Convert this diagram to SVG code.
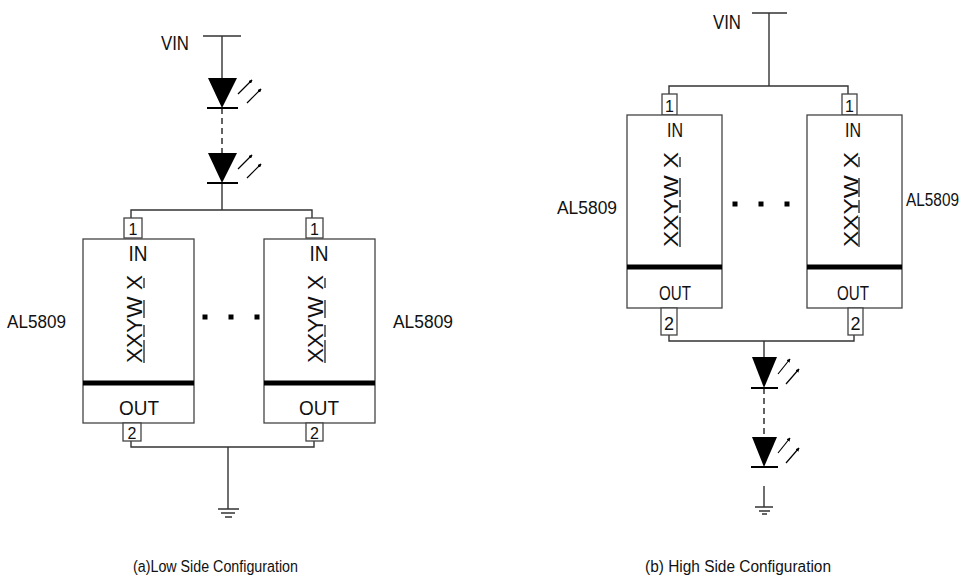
<svg xmlns="http://www.w3.org/2000/svg" width="967" height="579" viewBox="0 0 967 579">
<style>
.w{stroke:#333;stroke-width:1.4;fill:none}
.box{stroke:#444;stroke-width:1.3;fill:#fff}
.bar{stroke:#000;stroke-width:5}
.t{font-family:"Liberation Sans",Arial,sans-serif;fill:#111}
.ul{stroke:#222;stroke-width:1.3}
.led{fill:#000}
.kb{stroke:#000;stroke-width:2}
.ray{stroke:#000;stroke-width:1.2;marker-end:url(#ah)}
.dash{stroke:#222;stroke-width:1.4;stroke-dasharray:6 4}
.dot{fill:#000}
</style>
<defs>
<marker id="ah" viewBox="0 0 6 6" refX="5" refY="3" markerWidth="4" markerHeight="4" orient="auto" markerUnits="userSpaceOnUse">
<path d="M0,0 L6,3 L0,6 z" fill="#000"/>
</marker>
</defs>
<rect width="967" height="579" fill="#fff"/>

<g id="connectors">
<!-- (a) -->
<path class="w" d="M203,36 H241 M222,36 V78 M222,183 V210 M131,218 V210 H312 V218"/>
<line class="dash" x1="222" y1="108" x2="222" y2="153"/>
<path class="w" d="M131,441 V447 H314 V441 M228,447 V509"/>
<path class="w" d="M218,509 H239 M221,513 H235 M225,517 H232"/>
<!-- (b) -->
<path class="w" d="M752,13 H787 M769,13 V86 M669,94 V86 H848 V94"/>
<path class="w" d="M669,335 V341 H854 V335 M764,341 V357"/>
<line class="dash" x1="764" y1="388" x2="764" y2="437"/>
<path class="w" d="M764,486 V507 M755,507 H773 M759,511 H770 M762,514 H767"/>
</g>

<g id="vin-a"><text class="t" x="161" y="50" font-size="20" textLength="28" lengthAdjust="spacingAndGlyphs">VIN</text></g>
<g id="vin-b"><text class="t" x="713" y="29" font-size="20" textLength="28" lengthAdjust="spacingAndGlyphs">VIN</text></g>

<g id="led-a1">
<path class="led" d="M208,78 H237 L222,108 z"/><line class="kb" x1="207" y1="108" x2="238" y2="108"/>
<line class="ray" x1="238" y1="94" x2="252" y2="80"/><line class="ray" x1="247" y1="103" x2="261" y2="89"/>
</g>
<g id="led-a2">
<path class="led" d="M208,153 H237 L222,183 z"/><line class="kb" x1="207" y1="183" x2="238" y2="183"/>
<line class="ray" x1="238" y1="169" x2="252" y2="155"/><line class="ray" x1="247" y1="178" x2="261" y2="164"/>
</g>
<g id="led-b1">
<path class="led" d="M752,357 H777 L764,388 z"/><line class="kb" x1="751" y1="388" x2="778" y2="388"/>
<line class="ray" x1="778" y1="374" x2="790" y2="359"/><line class="ray" x1="786" y1="384" x2="799" y2="369"/>
</g>
<g id="led-b2">
<path class="led" d="M752,437 H777 L764,467 z"/><line class="kb" x1="751" y1="467" x2="778" y2="467"/>
<line class="ray" x1="778" y1="453" x2="790" y2="438"/><line class="ray" x1="786" y1="463" x2="799" y2="448"/>
</g>

<!-- (a) chip 1 -->
<g id="chip-a1">
<rect class="box" x="124" y="218" width="18" height="20"/>
<text class="t" x="133" y="235" font-size="16" text-anchor="middle">1</text>
<rect class="box" x="83" y="239" width="111" height="184"/>
<line class="bar" x1="83" y1="383" x2="194" y2="383"/>
<text class="t" x="138" y="261" font-size="22" text-anchor="middle" textLength="19" lengthAdjust="spacingAndGlyphs">IN</text>
<text class="t" transform="translate(126,319) rotate(-90)" x="0" y="16" font-size="22" text-anchor="middle" textLength="88" lengthAdjust="spacingAndGlyphs">XXYW X</text>
<path class="ul" d="M144,278 V288 M144,300 V318 M144,325 V337 M144,340 V363"/>
<text class="t" x="139" y="415" font-size="21" text-anchor="middle" textLength="40" lengthAdjust="spacingAndGlyphs">OUT</text>
<rect class="box" x="123" y="423" width="18" height="18"/>
<text class="t" x="132" y="439" font-size="16" text-anchor="middle">2</text>
<text class="t" x="7" y="328" font-size="18" textLength="59" lengthAdjust="spacingAndGlyphs">AL5809</text>
</g>

<!-- (a) chip 2 -->
<g id="chip-a2">
<rect class="box" x="306" y="218" width="17" height="20"/>
<text class="t" x="314.5" y="235" font-size="16" text-anchor="middle">1</text>
<rect class="box" x="264" y="239" width="111" height="184"/>
<line class="bar" x1="264" y1="383" x2="375" y2="383"/>
<text class="t" x="319" y="261" font-size="22" text-anchor="middle" textLength="19" lengthAdjust="spacingAndGlyphs">IN</text>
<text class="t" transform="translate(307,319) rotate(-90)" x="0" y="16" font-size="22" text-anchor="middle" textLength="88" lengthAdjust="spacingAndGlyphs">XXYW X</text>
<path class="ul" d="M325,278 V288 M325,300 V318 M325,325 V337 M325,340 V363"/>
<text class="t" x="319" y="415" font-size="21" text-anchor="middle" textLength="40" lengthAdjust="spacingAndGlyphs">OUT</text>
<rect class="box" x="306" y="423" width="17" height="18"/>
<text class="t" x="314.5" y="439" font-size="16" text-anchor="middle">2</text>
<text class="t" x="393" y="328" font-size="18" textLength="60" lengthAdjust="spacingAndGlyphs">AL5809</text>
</g>

<g id="dots-a">
<rect class="dot" x="202.5" y="314.5" width="5" height="5"/>
<rect class="dot" x="228.5" y="314.5" width="5" height="5"/>
<rect class="dot" x="254.5" y="314.5" width="5" height="5"/>
</g>

<!-- (b) chip 1 -->
<g id="chip-b1">
<rect class="box" x="662" y="94" width="15" height="21"/>
<text class="t" x="669.5" y="112" font-size="16" text-anchor="middle">1</text>
<rect class="box" x="627" y="115" width="95" height="193"/>
<line class="bar" x1="627" y1="267" x2="722" y2="267"/>
<text class="t" x="675" y="137" font-size="21" text-anchor="middle" textLength="16" lengthAdjust="spacingAndGlyphs">IN</text>
<text class="t" transform="translate(663,199.5) rotate(-90)" x="0" y="15" font-size="20" text-anchor="middle" textLength="95" lengthAdjust="spacingAndGlyphs">XXYW X</text>
<path class="ul" d="M680,157 V167 M680,178 V197 M680,200 V213 M680,217 V247"/>
<text class="t" x="675" y="300" font-size="21" text-anchor="middle" textLength="32" lengthAdjust="spacingAndGlyphs">OUT</text>
<rect class="box" x="661" y="308" width="16" height="27"/>
<text class="t" x="669" y="330" font-size="18" text-anchor="middle">2</text>
<text class="t" x="557" y="214" font-size="18" textLength="60" lengthAdjust="spacingAndGlyphs">AL5809</text>
</g>

<!-- (b) chip 2 -->
<g id="chip-b2">
<rect class="box" x="842" y="94" width="15" height="21"/>
<text class="t" x="849.5" y="112" font-size="16" text-anchor="middle">1</text>
<rect class="box" x="807" y="115" width="95" height="193"/>
<line class="bar" x1="807" y1="267" x2="902" y2="267"/>
<text class="t" x="853" y="137" font-size="21" text-anchor="middle" textLength="16" lengthAdjust="spacingAndGlyphs">IN</text>
<text class="t" transform="translate(843,199.5) rotate(-90)" x="0" y="15" font-size="20" text-anchor="middle" textLength="95" lengthAdjust="spacingAndGlyphs">XXYW X</text>
<path class="ul" d="M859,157 V167 M859,178 V197 M859,200 V213 M859,217 V247"/>
<text class="t" x="853" y="300" font-size="21" text-anchor="middle" textLength="32" lengthAdjust="spacingAndGlyphs">OUT</text>
<rect class="box" x="848" y="308" width="15" height="27"/>
<text class="t" x="855.5" y="330" font-size="18" text-anchor="middle">2</text>
<text class="t" x="906" y="206" font-size="18" textLength="53" lengthAdjust="spacingAndGlyphs">AL5809</text>
</g>

<g id="dots-b">
<rect class="dot" x="732.5" y="201.5" width="5" height="5"/>
<rect class="dot" x="758.5" y="201.5" width="5" height="5"/>
<rect class="dot" x="784.5" y="201.5" width="5" height="5"/>
</g>

<g id="captions">
<text class="t" x="133" y="572" font-size="16" textLength="165" lengthAdjust="spacingAndGlyphs">(a)Low Side Configuration</text>
<text class="t" x="645" y="572" font-size="16" textLength="186" lengthAdjust="spacingAndGlyphs">(b) High Side Configuration</text>
</g>
</svg>
